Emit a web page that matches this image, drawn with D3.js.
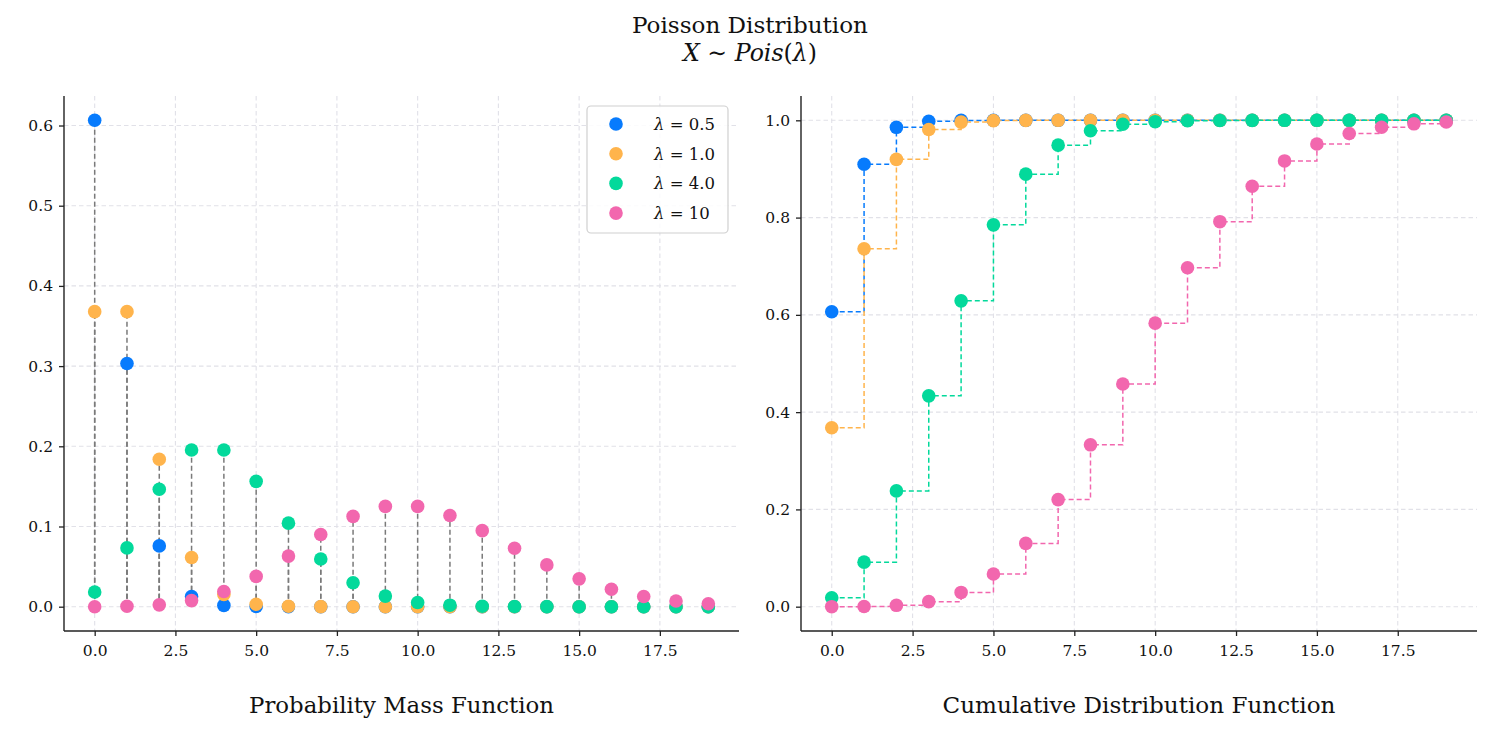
<!DOCTYPE html>
<html>
<head>
<meta charset="utf-8">
<script src="https://cdn.jsdelivr.net/npm/d3@7"></script>
<style>
  body { margin: 0; background: #fff; }
  svg { display: block; }
  text { font-family: "DejaVu Serif", "Liberation Serif", serif; fill: #111; }
</style>
</head>
<body>
<svg id="chart" width="1500" height="750"></svg>
<script>
// ---- data ----
const ks = [0,1,2,3,4,5,6,7,8,9,10,11,12,13,14,15,16,17,18,19];
const lambdas = ["0.5", "1.0", "4.0", "10"];
const colors = ["#077bfd", "#ffb44c", "#03d99b", "#f267ae"];

const pmf05 = [0.6065,0.3033,0.0758,0.0126,0.0016,0.0002,0,0,0,0,0,0,0,0,0,0,0,0,0,0];
const pmf1  = [0.3679,0.3679,0.1839,0.0613,0.0153,0.0031,0.0005,0.0001,0,0,0,0,0,0,0,0,0,0,0,0];
const pmf4  = [0.0183,0.0733,0.1465,0.1954,0.1954,0.1563,0.1042,0.0595,0.0298,0.0132,0.0053,0.0019,0.0006,0.0002,0.0001,0,0,0,0,0];
const pmf10 = [0.0000,0.0005,0.0023,0.0076,0.0189,0.0378,0.0631,0.0901,0.1126,0.1251,0.1251,0.1137,0.0948,0.0729,0.0521,0.0347,0.0217,0.0128,0.0071,0.0037];

const cdf05 = [0.6065,0.9098,0.9856,0.9982,0.9998,1,1,1,1,1,1,1,1,1,1,1,1,1,1,1];
const cdf1  = [0.3679,0.7358,0.9197,0.9810,0.9963,0.9994,0.9999,1,1,1,1,1,1,1,1,1,1,1,1,1];
const cdf4  = [0.0183,0.0916,0.2381,0.4335,0.6288,0.7851,0.8893,0.9489,0.9786,0.9919,0.9972,0.9991,0.9997,0.9999,1,1,1,1,1,1];
const cdf10 = [0.0000,0.0005,0.0028,0.0103,0.0293,0.0671,0.1301,0.2202,0.3328,0.4579,0.5830,0.6968,0.7916,0.8645,0.9165,0.9513,0.9730,0.9857,0.9928,0.9965];

const xTicks = [0, 2.5, 5, 7.5, 10, 12.5, 15, 17.5];
const pmfTicks = [0, 0.1, 0.2, 0.3, 0.4, 0.5, 0.6];
const cdfTicks = [0, 0.2, 0.4, 0.6, 0.8, 1.0];

const pmfSeries = [pmf05, pmf1, pmf4, pmf10];
const cdfSeries = [cdf05, cdf1, cdf4, cdf10];

// ---- layout ----
const svg = d3.select("#chart");
const plotTop = 96, plotBottom = 631;
const panels = [
  { x0: 64, x1: 739, series: pmfSeries, ticks: pmfTicks, ydom: [-0.0303, 0.6368], label: "Probability Mass Function", labelW: 305, kind: "pmf" },
  { x0: 801, x1: 1477, series: cdfSeries, ticks: cdfTicks, ydom: [-0.05, 1.05], label: "Cumulative Distribution Function", labelW: 393, kind: "cdf" }
];

// scale a text's font size so that its rendered width matches the reference width
function fit(sel, targetW, base) {
  sel.style("font-size", base + "px");
  const w = sel.node().getComputedTextLength();
  if (w > 0) sel.style("font-size", (base * targetW / w).toFixed(2) + "px");
  return sel;
}

const title = svg.append("text").attr("x", 750).attr("y", 33).attr("text-anchor", "middle")
  .text("Poisson Distribution");
fit(title, 236, 20);
const sub = svg.append("text").attr("x", 750).attr("y", 61).attr("text-anchor", "middle")
  .style("font-style", "italic");
sub.append("tspan").text("X");
sub.append("tspan").style("font-style", "normal").text(" ∼ ");
sub.append("tspan").text("Pois");
sub.append("tspan").style("font-style", "normal").text("(");
sub.append("tspan").text("λ");
sub.append("tspan").style("font-style", "normal").text(")");
fit(sub, 134, 20);

panels.forEach(p => {
  const x = d3.scaleLinear().domain([-0.95, 19.95]).range([p.x0, p.x1]);
  const y = d3.scaleLinear().domain(p.ydom).range([plotBottom, plotTop]);
  const g = svg.append("g");

  // grid
  g.append("g").selectAll("line").data(xTicks).join("line")
    .attr("x1", d => x(d)).attr("x2", d => x(d)).attr("y1", plotTop).attr("y2", plotBottom)
    .attr("stroke", "#e1e1e8").attr("stroke-width", 1.1).attr("stroke-dasharray", "4.5,3");
  g.append("g").selectAll("line").data(p.ticks).join("line")
    .attr("y1", d => y(d)).attr("y2", d => y(d)).attr("x1", p.x0).attr("x2", p.x1)
    .attr("stroke", "#e1e1e8").attr("stroke-width", 1.1).attr("stroke-dasharray", "4.5,3");

  if (p.kind === "pmf") {
    p.series.forEach(s => {
      g.append("g").selectAll("line").data(ks).join("line")
        .attr("x1", d => x(d)).attr("x2", d => x(d))
        .attr("y1", y(0)).attr("y2", d => y(s[d]))
        .attr("stroke", "#7a7a7a").attr("stroke-width", 1.5).attr("stroke-dasharray", "5,3");
    });
  } else {
    p.series.forEach((s, i) => {
      const line = d3.line().curve(d3.curveStepAfter).x(d => x(d)).y(d => y(s[d]));
      g.append("path").attr("d", line(ks)).attr("fill", "none")
        .attr("stroke", colors[i]).attr("stroke-width", 1.5).attr("stroke-dasharray", "5,3");
    });
  }

  p.series.forEach((s, i) => {
    g.append("g").selectAll("circle").data(ks).join("circle")
      .attr("cx", d => x(d)).attr("cy", d => y(s[d])).attr("r", 6.8)
      .attr("fill", colors[i]);
  });

  // axes
  const xa = g.append("g").attr("transform", `translate(0,${plotBottom})`)
    .call(d3.axisBottom(x).tickValues(xTicks).tickFormat(d3.format(".1f")).tickSize(5).tickPadding(9));
  const ya = g.append("g").attr("transform", `translate(${p.x0},0)`)
    .call(d3.axisLeft(y).tickValues(p.ticks).tickFormat(d3.format(".1f")).tickSize(5).tickPadding(6));
  [xa, ya].forEach(a => {
    a.select(".domain").attr("stroke", "#222").attr("stroke-width", 1.4);
    a.selectAll(".tick line").attr("stroke", "#222").attr("stroke-width", 1.3);
    a.selectAll(".tick text").style("font-size", "15.5px").style("font-family", "'DejaVu Serif', serif").attr("fill", "#111");
  });
  xa.select(".domain").attr("d", `M${p.x0},0H${p.x1}`);
  ya.select(".domain").attr("d", `M0,${plotBottom}V${plotTop}`);

  const lab = svg.append("text").attr("x", (p.x0 + p.x1) / 2).attr("y", 713).attr("text-anchor", "middle")
    .text(p.label);
  fit(lab, p.labelW, 20);

  if (p.kind === "pmf") {
    const lg = svg.append("g");
    lg.append("rect").attr("x", 587).attr("y", 106).attr("width", 141).attr("height", 127)
      .attr("rx", 4).attr("fill", "rgba(255,255,255,0.85)").attr("stroke", "#d0d0d0").attr("stroke-width", 1.2);
    lambdas.forEach((l, i) => {
      const yy = 124 + i * 29.7;
      lg.append("circle").attr("cx", 616).attr("cy", yy).attr("r", 6.8).attr("fill", colors[i]);
      const t = lg.append("text").attr("x", 654).attr("y", yy + 6).style("font-size", "16.5px");
      t.append("tspan").style("font-style", "italic").text("λ");
      t.append("tspan").text(" = " + l);
    });
  }
});
</script>
</body>
</html>
